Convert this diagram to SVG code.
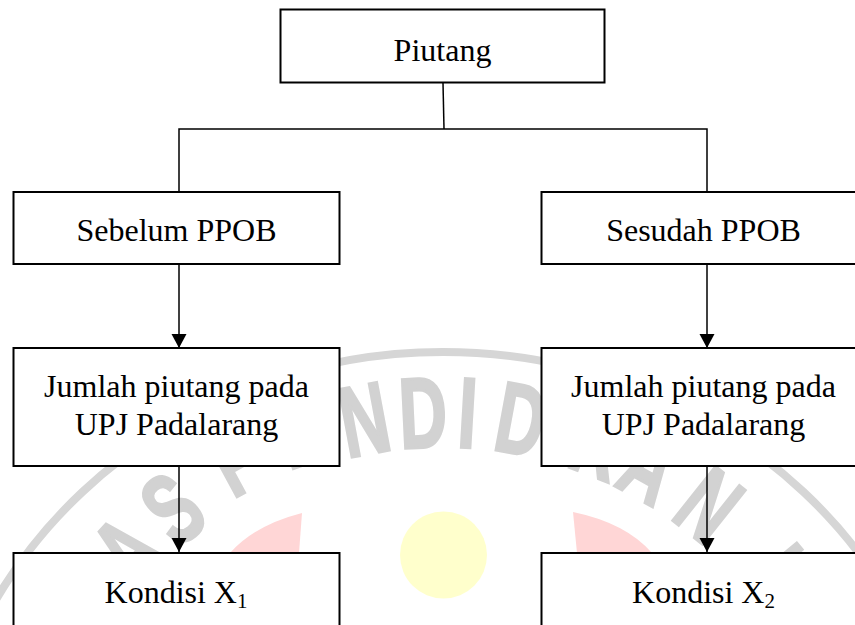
<svg xmlns="http://www.w3.org/2000/svg" width="855" height="625" viewBox="0 0 855 625">
<style>
.box{fill:#fff;stroke:#000;stroke-width:2}
.lbl{font-family:"Liberation Serif","Times New Roman",serif;font-size:32px;fill:#000;text-anchor:middle}
.sub{font-size:21px}
.conn{stroke:#000;stroke-width:1.5;fill:none}
.wm{font-family:"Liberation Sans",Arial,sans-serif;font-weight:bold;font-size:100px;fill:#d2d2d2;stroke:#d2d2d2;stroke-width:3;text-anchor:middle}
</style>
<defs>
<marker id="ah" markerUnits="userSpaceOnUse" markerWidth="16" markerHeight="16" refX="14" refY="7.5" orient="auto">
<path d="M0,0 L14,7.5 L0,15 Z" fill="#000"/>
</marker>
</defs>
<rect width="855" height="625" fill="#fff"/>
<g id="watermark">
<ellipse cx="443" cy="830" rx="510" ry="478" fill="none" stroke="#d6d6d6" stroke-width="8"/>
<circle cx="443.5" cy="555" r="43.5" fill="#ffffcc"/>
<path d="M302,513 Q255,525 230,553 L299,553 Z" fill="#ffd6d6"/>
<path d="M573,512 Q626,523 652,553 L577,553 Z" fill="#ffd6d6"/>
<g transform="rotate(-47.5 443 840)"><text class="wm" transform="translate(443,447) scale(0.66,1)">A</text></g>
<g transform="rotate(-39.2 443 840)"><text class="wm" transform="translate(443,447) scale(0.66,1)">S</text></g>
<g transform="rotate(-28.5 443 840)"><text class="wm" transform="translate(443,440) scale(0.66,1)">P</text></g>
<g transform="rotate(-19.5 443 840)"><text class="wm" transform="translate(443,440) scale(0.66,1)">E</text></g>
<g transform="rotate(-10.6 443 840)"><text class="wm" transform="translate(443,447) scale(0.66,1)">N</text></g>
<g transform="rotate(-2.7 443 840)"><text class="wm" transform="translate(443,447) scale(0.66,1)">D</text></g>
<g transform="rotate(3.3 443 840)"><text class="wm" transform="translate(443,447) scale(0.66,1)">I</text></g>
<g transform="rotate(10.5 443 840)"><text class="wm" transform="translate(443,447) scale(0.66,1)">D</text></g>
<g transform="rotate(16 443 840)"><text class="wm" transform="translate(443,447) scale(0.66,1)">I</text></g>
<g transform="rotate(21.5 443 840)"><text class="wm" transform="translate(443,447) scale(0.66,1)">K</text></g>
<g transform="rotate(29 443 840)"><text class="wm" transform="translate(443,447) scale(0.66,1)">A</text></g>
<g transform="rotate(38.5 443 840)"><text class="wm" transform="translate(443,447) scale(0.66,1)">N</text></g>
<g transform="rotate(50.5 443 840)"><text class="wm" transform="translate(443,447) scale(0.66,1)">I</text></g>
</g>
<g id="connectors">
<polyline class="conn" points="443,83 444,129"/>
<polyline class="conn" points="179,192 179,129 707,129 707,192"/>
<line class="conn" x1="179" y1="264" x2="179" y2="348" marker-end="url(#ah)"/>
<line class="conn" x1="707" y1="264" x2="707" y2="348" marker-end="url(#ah)"/>
<line class="conn" x1="179" y1="466" x2="179" y2="552" marker-end="url(#ah)"/>
<line class="conn" x1="707" y1="466" x2="707" y2="552" marker-end="url(#ah)"/>
</g>
<g id="piutang">
<rect class="box" x="280.5" y="9.5" width="324" height="73"/>
<text class="lbl" x="442.5" y="61">Piutang</text>
</g>
<g id="sebelum">
<rect class="box" x="13.5" y="192" width="326" height="72"/>
<text class="lbl" x="176.5" y="241">Sebelum PPOB</text>
</g>
<g id="sesudah">
<rect class="box" x="541.5" y="192" width="326" height="72"/>
<text class="lbl" x="703.5" y="241">Sesudah PPOB</text>
</g>
<g id="jumlah1">
<rect class="box" x="13.5" y="348" width="326" height="118"/>
<text class="lbl" x="176.5" y="397">Jumlah piutang pada</text>
<text class="lbl" x="176.5" y="435">UPJ Padalarang</text>
</g>
<g id="jumlah2">
<rect class="box" x="541.5" y="348" width="326" height="118"/>
<text class="lbl" x="703.5" y="397">Jumlah piutang pada</text>
<text class="lbl" x="703.5" y="435">UPJ Padalarang</text>
</g>
<g id="kondisi1">
<rect class="box" x="13.5" y="553" width="326" height="90"/>
<text class="lbl" x="176" y="603">Kondisi X<tspan class="sub" dy="5">1</tspan></text>
</g>
<g id="kondisi2">
<rect class="box" x="541.5" y="553" width="326" height="90"/>
<text class="lbl" x="703.5" y="603">Kondisi X<tspan class="sub" dy="5">2</tspan></text>
</g>
</svg>
